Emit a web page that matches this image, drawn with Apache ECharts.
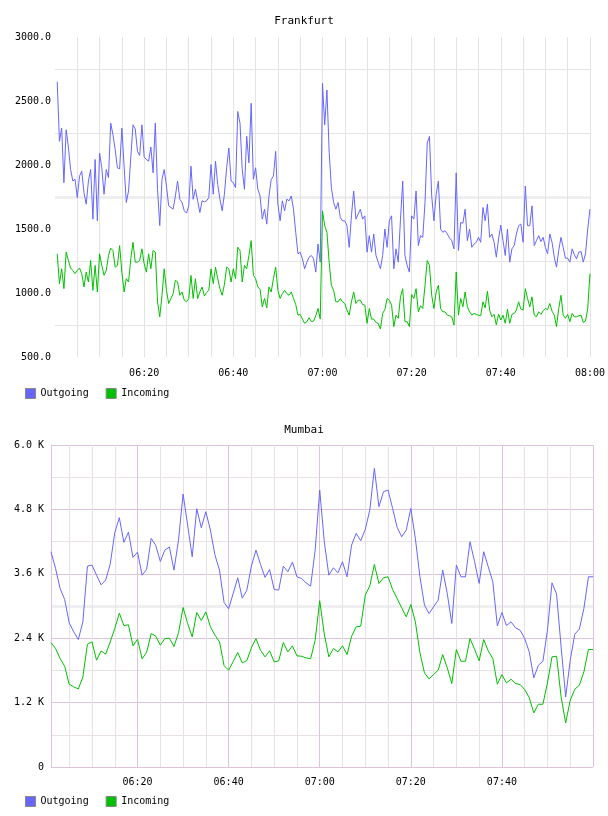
<!DOCTYPE html>
<html>
<head>
<meta charset="utf-8">
<script src="https://cdn.jsdelivr.net/npm/echarts@6/dist/echarts.min.js"></script>
<style>
  body { margin: 0; background: #fff; }
  .chart { width: 608px; height: 408px; }
</style>
</head>
<body>
<div id="fra" class="chart"></div>
<div id="mum" class="chart"></div>
<script>
// Frankfurt: one sample every 30 s, first at 06:00:30
const fraOut = [
  2650, 2185, 2288, 1862, 2275, 2141, 1965, 1875, 1888, 1745,
  1913, 1952, 1784, 1694, 1875, 1965, 1577, 2043, 1564, 2094,
  1978, 1771, 1965, 1901, 2327, 2237, 2120, 1978, 1970, 2288,
  1991, 1707, 1797, 2056, 2314, 2281, 2107, 2074, 2314, 2063,
  2043, 2030, 2141, 1939, 2327, 1810, 1526, 1888, 1965, 1836,
  1681, 1668, 1655, 1758, 1875, 1733, 1707, 1642, 1624, 1681,
  1991, 1732, 1810, 1720, 1629, 1720, 1712, 1720, 1745, 2004,
  1771, 2030, 1849, 1733, 1642, 1771, 1978, 2133, 1875, 1862,
  1823, 2418, 2327, 1965, 1810, 2224, 2017, 2482, 1888, 1978,
  1810, 1758, 1577, 1655, 1538, 1758, 1888, 1913, 2107, 1694,
  1564, 1720, 1642, 1733, 1720, 1758, 1655, 1474, 1306, 1319,
  1267, 1189, 1241, 1280, 1293, 1267, 1163, 1383, 1241, 2638,
  2314, 2586, 2100, 1823, 1707, 1655, 1707, 1590, 1564, 1564,
  1526, 1357, 1603, 1797, 1577, 1616, 1655, 1577, 1603, 1319,
  1448, 1319, 1461, 1293, 1241, 1189, 1293, 1500, 1357, 1564,
  1603, 1189, 1345, 1241, 1577, 1875, 1293, 1215, 1163, 1603,
  1577, 1797, 1370, 1448, 1435, 1707, 2172, 2224, 1758, 1564,
  1771, 1875, 1500, 1474, 1487, 1461, 1430, 1409, 1345, 1939,
  1332, 1551, 1545, 1655, 1409, 1500, 1357, 1383, 1396, 1435,
  1396, 1668, 1564, 1694, 1435, 1461, 1396, 1280, 1422, 1531,
  1409, 1293, 1500, 1241, 1345, 1370, 1461, 1526, 1539, 1396,
  1836, 1526, 1526, 1681, 1370, 1409, 1448, 1402, 1435, 1357,
  1306, 1461, 1396, 1280, 1202, 1332, 1435, 1357, 1272, 1272,
  1241, 1345, 1298, 1267, 1319, 1324, 1241, 1306, 1500, 1655
];
const fraIn = [
  1306, 1073, 1189, 1034, 1319, 1254, 1195, 1176, 1151, 1176,
  1195, 1151, 1047, 1163, 1086, 1254, 1021, 1215, 1008, 1306,
  1215, 1138, 1176, 1293, 1350, 1332, 1202, 1215, 1370, 1163,
  1008, 1112, 1086, 1267, 1396, 1241, 1241, 1254, 1345, 1228,
  1163, 1306, 1189, 1332, 1319, 931, 814, 982, 1189, 1021,
  918, 957, 995, 1099, 1086, 982, 1008, 944, 931, 957,
  1138, 957, 1112, 957, 1008, 1047, 977, 1003, 1021, 1189,
  1073, 1202, 1112, 1034, 982, 1065, 1202, 1189, 1086, 1189,
  1112, 1358, 1332, 1086, 1215, 1189, 1293, 1409, 1138, 1112,
  1047, 1029, 892, 957, 884, 1047, 1008, 1112, 1202, 1021,
  957, 995, 1021, 995, 982, 1008, 957, 910, 827, 833,
  796, 763, 776, 807, 776, 781, 822, 879, 796, 1642,
  1526, 1474, 1241, 1060, 1021, 931, 931, 957, 931, 918,
  866, 827, 931, 1008, 918, 944, 944, 910, 905, 763,
  879, 796, 796, 770, 763, 719, 840, 871, 957, 944,
  905, 737, 827, 802, 970, 1034, 776, 776, 737, 988,
  957, 1034, 853, 900, 879, 1060, 1254, 1215, 982, 879,
  1008, 1060, 879, 853, 853, 827, 822, 814, 750, 1164,
  827, 957, 892, 1008, 892, 853, 827, 840, 833, 827,
  822, 931, 884, 1014, 866, 814, 833, 750, 835, 789,
  827, 763, 874, 763, 833, 840, 866, 931, 874, 866,
  1034, 957, 892, 970, 827, 814, 853, 833, 861, 879,
  871, 918, 858, 827, 737, 879, 982, 827, 802, 833,
  776, 840, 814, 814, 822, 827, 770, 781, 879, 1151
];

// Mumbai: one sample per minute, first at 06:01
const mumOut = [
  4011, 3700, 3327, 3121, 2686, 2518, 2375, 2705, 3743, 3762,
  3575, 3395, 3482, 3780, 4365, 4645, 4185, 4377, 3905, 4004,
  3575, 3681, 4259, 4129, 3830, 4042, 4098, 3669, 4228, 5086,
  4508, 3917, 4813, 4458, 4757, 4415, 3948, 3669, 3065, 2947,
  3233, 3526, 3146, 3296, 3743, 4042, 3774, 3532, 3681, 3308,
  3296, 3743, 3638, 3818, 3544, 3513, 3432, 3370, 4042, 5161,
  4200, 3575, 3712, 3619, 3824, 3544, 4135, 4353, 4216, 4427,
  4788, 5565, 4850, 5130, 5161, 4819, 4465, 4290, 4415, 4819,
  4259, 3544, 3016, 2860, 2985, 3109, 3669, 3233, 2674, 3762,
  3544, 3544, 4197, 3824, 3420, 4011, 3731, 3451, 2630, 2879,
  2636, 2705, 2593, 2549, 2394, 2145, 1660, 1896, 1971, 2549,
  3432, 3221, 2238, 1306, 1990, 2475, 2568, 2954, 3544, 3544
];
const mumIn = [
  2319, 2207, 2021, 1878, 1542, 1492, 1455, 1679, 2288, 2332,
  1990, 2164, 2102, 2332, 2580, 2866, 2636, 2649, 2257, 2381,
  2015, 2139, 2487, 2437, 2270, 2394, 2400, 2245, 2500, 2972,
  2674, 2425, 2879, 2730, 2891, 2612, 2456, 2332, 1890, 1803,
  1965, 2133, 1940, 1984, 2220, 2394, 2176, 2052, 2164, 1959,
  1977, 2319, 2145, 2257, 2071, 2064, 2033, 2015, 2363, 3097,
  2480, 2052, 2207, 2145, 2257, 2095, 2437, 2612, 2624, 3202,
  3376, 3774, 3420, 3526, 3544, 3308, 3140, 2966, 2798, 3028,
  2705, 2127, 1753, 1642, 1722, 1803, 2095, 1847, 1555, 2189,
  1971, 1971, 2394, 2195, 1977, 2375, 2164, 2021, 1542, 1722,
  1567, 1635, 1555, 1536, 1443, 1293, 1007, 1169, 1169, 1567,
  2052, 2064, 1306, 821, 1244, 1449, 1523, 1772, 2189, 2189
];

// minutes after 06:00
const gridMinutes = [5, 10, 15, 20, 25, 30, 35, 40, 45, 50, 55, 60,
                     65, 70, 75, 80, 85, 90, 95, 100, 105, 110, 115, 120];
const fraLabelMinutes = [20, 40, 60, 80, 100, 120];
const mumLabelMinutes = [20, 40, 60, 80, 100];

const FONT = '"DejaVu Sans Mono", monospace';
const BLUE = '#6666ff';
const GREEN = '#00c000';

function hhmm(m) {
  let t = 360 + Math.round(m);
  return String(Math.floor(t / 60)).padStart(2, '0') + ':' + String(t % 60).padStart(2, '0');
}

function toPairs(arr, start, step) {
  return arr.map((v, i) => [start + i * step, v]);
}

function buildOption(c) {
  return {
    animation: false,
    title: {
      text: c.title, left: 'center', top: c.titleTop,
      textStyle: {fontFamily: FONT, fontSize: 11, fontWeight: 'normal', color: '#000'}
    },
    legend: {
      left: 20, top: 383, itemWidth: 10, itemHeight: 10, itemGap: 17, icon: 'rect',
      itemStyle: {borderColor: '#888', borderWidth: 1},
      textStyle: {fontFamily: FONT, fontSize: 10, color: '#000'},
      data: ['Outgoing', 'Incoming']
    },
    grid: {left: c.left, right: c.right, top: 37, bottom: c.bottom},
    xAxis: {
      type: 'value', min: c.xMin, max: 120,
      axisLine: {show: false},
      axisTick: {show: false, customValues: gridMinutes},
      axisLabel: {customValues: c.labels, formatter: hhmm, fontFamily: FONT, fontSize: 10, color: '#000', margin: c.xMargin},
      splitLine: {show: true, lineStyle: {color: c.vColors, width: 1}}
    },
    yAxis: [{
      type: 'value', min: c.yMin, max: c.yMax, interval: c.yStep,
      axisLine: {show: c.yLine, lineStyle: {color: c.purple}},
      axisTick: {show: false},
      axisLabel: {formatter: c.yFmt, fontFamily: FONT, fontSize: 10, color: '#000', margin: c.yMargin},
      splitLine: {show: true, lineStyle: {color: c.hColors, width: 1}}
    }, {
      // thicker band at the middle of the range
      type: 'value', min: c.yMin, max: c.yMax, interval: (c.yMax - c.yMin) / 2,
      position: 'left', axisLine: {show: false}, axisTick: {show: false}, axisLabel: {show: false},
      splitLine: {show: true, lineStyle: {color: ['transparent', '#efefef', 'transparent'], width: 3}}
    }],
    series: [
      {name: 'Outgoing', type: 'line', data: c.out, showSymbol: false, z: 3,
       lineStyle: {width: 1, color: BLUE}, itemStyle: {color: BLUE}},
      {name: 'Incoming', type: 'line', data: c.inc, showSymbol: false, z: 4,
       lineStyle: {width: 1, color: GREEN}, itemStyle: {color: GREEN}}
    ]
  };
}

const GREY = '#e4e4e4';
const PURPLE = '#dcc4dc';
const LIGHT = '#e8e2e8';

echarts.init(document.getElementById('fra')).setOption(buildOption({
  title: 'Frankfurt', titleTop: 11, left: 55, right: 15, bottom: 51, xMin: 0, xMargin: 11,
  labels: fraLabelMinutes, vColors: GREY,
  yMin: 500, yMax: 3000, yStep: 250, yLine: false, purple: GREY, yMargin: 4,
  yFmt: v => (v % 500 ? '' : v.toFixed(1)),
  hColors: ['transparent', GREY],
  out: toPairs(fraOut, 0.5, 0.5), inc: toPairs(fraIn, 0.5, 0.5)
}));

echarts.init(document.getElementById('mum')).setOption(buildOption({
  title: 'Mumbai', titleTop: 12, left: 51, right: 15, bottom: 49, xMin: 1, xMargin: 10,
  labels: mumLabelMinutes, vColors: [LIGHT, LIGHT, LIGHT, PURPLE],
  yMin: 0, yMax: 6000, yStep: 600, yLine: true, purple: PURPLE, yMargin: 7,
  yFmt: v => (v % 1200 ? '' : (v === 0 ? '0' : (v / 1000).toFixed(1) + ' K')),
  hColors: [PURPLE, LIGHT],
  out: toPairs(mumOut, 1, 1), inc: toPairs(mumIn, 1, 1)
}));
</script>
</body>
</html>
